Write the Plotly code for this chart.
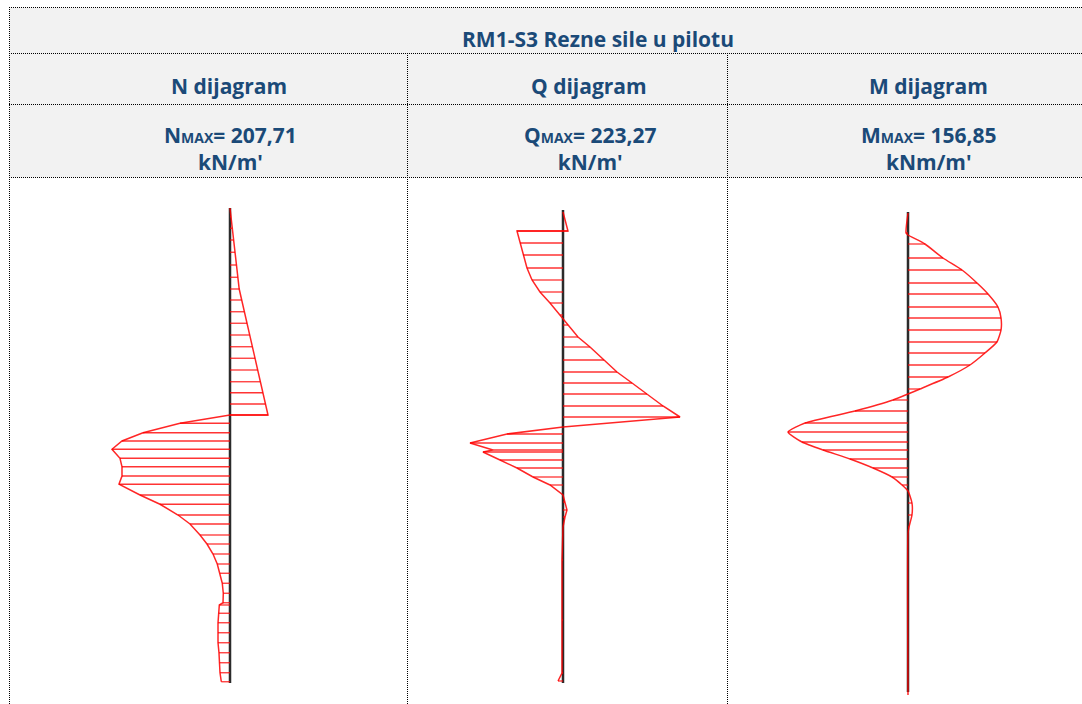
import plotly.graph_objects as go

# ---------------- data ----------------
title_text = "RM1-S3 Rezne sile u pilotu"
diagram_titles = ["N dijagram", "Q dijagram", "M dijagram"]
max_symbols = ["N", "Q", "M"]
max_values = ["207,71", "223,27", "156,85"]
max_units = ["kN/m'", "kN/m'", "kNm/m'"]

# depth along pile [m] and force values
N_depth = [0.00, 0.35, 0.81, 1.28, 1.77, 2.28, 2.77, 3.24, 3.68, 4.15, 4.61, 5.08, 5.55, 6.01,
           6.48, 6.95, 7.39, 7.84, 8.28, 8.28, 8.61, 8.99, 9.32, 9.65, 10.01, 10.35, 10.72, 11.05,
           11.48, 11.85, 12.28, 12.64, 13.08, 13.44, 13.84, 14.24, 14.61, 15.01, 15.41, 15.79,
           15.88, 16.21, 16.59, 16.99, 17.39, 17.79, 18.19, 18.59, 18.95]
N_val = [0, 1.8, 4.0, 6.3, 8.8, 11.3, 13.7, 16.2, 20.6, 25.3, 30.1, 34.7, 39.4, 44.2,
         48.8, 53.5, 57.9, 62.5, 66.9, 0, -88.0, -153.1, -190.1, -207.71, -193.6, -190.1, -190.1, -195.4,
         -158.4, -123.2, -91.5, -70.4, -52.8, -40.5, -29.9, -22.4, -17.6, -13.6, -11.8, -12.3,
         -18.8, -20.2, -21.1, -21.1, -21.1, -19.4, -18.5, -17.6, -15.3]

Q_depth = [0.16, 0.92, 0.92, 1.40, 1.88, 2.40, 2.88, 3.36, 3.80, 4.28, 4.40, 4.68, 5.16, 5.56,
           6.08, 6.56, 7.00, 7.44, 7.92, 8.36, 8.76, 9.04, 9.40, 9.68, 9.76, 10.08, 10.40, 10.76,
           11.08, 11.48, 11.76, 12.08, 12.36, 12.76, 14.08, 16.48, 18.60, 18.92]
Q_val = [0, 9.5, -87.8, -82.0, -76.3, -68.7, -59.1, -43.9, -24.8, -5.7, 0, 9.5, 28.6, 51.5,
         78.2, 103.0, 131.7, 160.3, 190.8, 223.27, 0, -106.8, -177.4, -133.6, -152.7, -120.2, -87.8, -57.2,
         -24.8, 0, 3.8, 7.6, 3.8, 0, -1.9, -1.9, -1.9, -9.5]

M_depth = [0.20, 1.00, 1.08, 1.44, 2.00, 2.48, 3.00, 3.44, 3.96, 4.40, 4.88, 5.36, 5.80, 6.28,
           6.76, 7.24, 7.44, 7.68, 8.12, 8.60, 8.96, 9.36, 9.68, 10.04, 10.40, 10.76, 11.08, 11.32,
           11.80, 12.28, 12.76, 13.00, 19.48]
M_val = [0, -2.6, 0, 22.2, 45.7, 70.6, 90.2, 104.6, 117.6, 121.6, 121.6, 116.3, 100.6, 81.0,
         52.3, 15.7, 0, -19.6, -69.3, -134.6, -156.85, -138.6, -111.1, -75.8, -45.7, -20.9, -7.8, 0,
         5.2, 5.2, 1.3, 0, 0]

N_pile = [0.00, 19.00]
Q_pile = [0.08, 19.00]
M_pile = [0.16, 19.36]

# ---------------- layout helpers ----------------
W, H = 1082, 704
PX_PER_M = 25.0
TOP_PX = 208.0
axis_px = [230.0, 563.0, 908.0]          # pixel position of each pile axis
kn_per_px = [1.760, 1.908, 1.307]         # drawing scale of each diagram
outline_shape = ["linear", "linear", "spline"]

def px(x):
    return x / W

def py(y):
    return 1 - y / H

TXT = "#1B4A78"
FONT = "Open Sans"
FS = 21

fig = go.Figure()

diagrams = [(N_depth, N_val, N_pile), (Q_depth, Q_val, Q_pile), (M_depth, M_val, M_pile)]
for i, (dep, val, pile) in enumerate(diagrams):
    xa = "x" if i == 0 else f"x{i+1}"
    # pile axis
    fig.add_trace(go.Scatter(x=[0, 0], y=pile, mode="lines", xaxis=xa, yaxis="y",
                             line=dict(color="#2b2b2b", width=2.5), hoverinfo="skip"))
    # hatching
    hx, hy = [], []
    for d, v in zip(dep, val):
        hx += [0, v, None]
        hy += [d, d, None]
    fig.add_trace(go.Scatter(x=hx, y=hy, mode="lines", xaxis=xa, yaxis="y",
                             line=dict(color="rgba(255,0,0,0.8)", width=1.3), hoverinfo="skip"))
    # outline
    fig.add_trace(go.Scatter(x=val, y=dep, mode="lines", xaxis=xa, yaxis="y",
                             line=dict(color="rgba(255,0,0,0.85)", width=1.5,
                                       shape=outline_shape[i], smoothing=0.5),
                             hoverinfo="skip"))

layout_axes = {}
for i in range(3):
    key = "xaxis" if i == 0 else f"xaxis{i+1}"
    s = kn_per_px[i]
    a = axis_px[i]
    ax = dict(domain=[0, 1], range=[-a * s, (W - a) * s], visible=False, fixedrange=True)
    if i > 0:
        ax["overlaying"] = "x"
    layout_axes[key] = ax

yr = [(H - TOP_PX) / PX_PER_M, (0 - TOP_PX) / PX_PER_M]

shapes = []
# gray header background
shapes.append(dict(type="rect", xref="paper", yref="paper", x0=px(9.5), x1=px(W), y0=py(7.5), y1=py(177.5),
                   fillcolor="#F2F2F2", line=dict(width=0), layer="below"))
dot = dict(color="#000000", width=1, dash="1px,1px")
for yy in [7.5, 53.5, 104.5, 177.5]:
    shapes.append(dict(type="line", xref="paper", yref="paper", x0=px(9), x1=px(W), y0=py(yy), y1=py(yy), line=dot))
shapes.append(dict(type="line", xref="paper", yref="paper", x0=px(9.5), x1=px(9.5), y0=py(7), y1=py(H), line=dot))
for xx in [407.5, 727.5]:
    shapes.append(dict(type="line", xref="paper", yref="paper", x0=px(xx), x1=px(xx), y0=py(53), y1=py(H), line=dot))

def ann(text, x, y, size=FS):
    return dict(text=text, x=px(x), y=py(y), xref="paper", yref="paper",
                showarrow=False, xanchor="center", yanchor="middle", align="center",
                font=dict(family=FONT, size=size, color=TXT))

annotations = [ann(f"<b>{title_text}</b>", 598, 39)]
title_x = [229, 589, 928]
for i in range(3):
    annotations.append(ann(f"<b>{diagram_titles[i]}</b>", title_x[i], 86))
    annotations.append(ann(f"<b>{max_symbols[i]}<span style='font-size:14px'>MAX</span>= {max_values[i]}"
                           f"<br>{max_units[i]}</b>", title_x[i] + 1, 148))

fig.update_layout(
    width=W, height=H, margin=dict(l=0, r=0, t=0, b=0),
    paper_bgcolor="white", plot_bgcolor="rgba(0,0,0,0)",
    showlegend=False,
    yaxis=dict(domain=[0, 1], range=yr, visible=False, fixedrange=True),
    shapes=shapes, annotations=annotations,
    **layout_axes,
)

fig.write_html("out.html", config={"displayModeBar": False},
               post_script="document.body.style.margin='0';document.body.style.overflow='hidden';")
